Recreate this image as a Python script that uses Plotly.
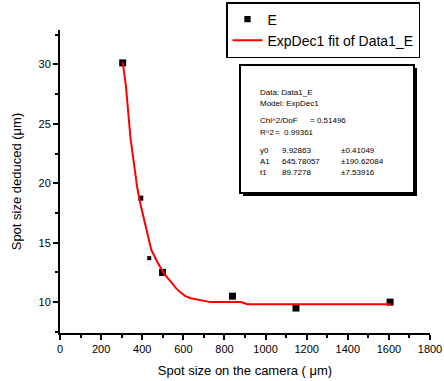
import plotly.graph_objects as go

# Measured data points (E)
data_x = [305, 393, 434, 499, 839, 1148, 1606]
data_y = [30.13, 18.75, 13.7, 12.5, 10.5, 9.5, 10.0]

# ExpDec1 fit curve
fit_x = [305, 320, 343, 360, 376, 392, 405, 421, 444, 473, 506, 540, 563, 587,
         610, 636, 660, 684, 733, 800, 879, 912, 1000, 1100, 1220, 1400, 1610]
fit_y = [30.2, 28.3, 23.8, 21.7, 19.6, 18.2, 17.2, 16.1, 14.4, 13.4, 12.4, 11.7,
         11.2, 10.8, 10.5, 10.33, 10.25, 10.2, 10.0, 10.0, 10.0, 9.83, 9.83, 9.83,
         9.83, 9.83, 9.83]

x_ticks = [0, 200, 400, 600, 800, 1000, 1200, 1400, 1600, 1800]
y_ticks = [10, 15, 20, 25, 30]

info_lines = [
    ("Data: Data1_E", "", ""),
    ("Model: ExpDec1", "", ""),
    ("Chi^2/DoF", "= 0.51496", ""),
    ("R^2", "=  0.99361", ""),
    ("y0", "9.92863", "\u00b10.41049"),
    ("A1", "645.78057", "\u00b1190.62084"),
    ("t1", "89.7278", "\u00b17.53916"),
]

FONT = "Liberation Sans, Arial, sans-serif"
W, H = 444, 381
L, R, T, B = 60, 14, 30, 48
PW, PH = W - L - R, H - T - B


def px(x):
    return (x - L) / PW


def py(y):
    return (H - B - y) / PH


fig = go.Figure()
fig.add_trace(go.Scatter(
    x=data_x, y=data_y, mode="markers", name="E",
    marker=dict(symbol="square", color="#000000", opacity=1,
                size=[7, 5, 4, 7, 7, 7, 7], line=dict(width=0)),
))
fig.add_trace(go.Scatter(
    x=fit_x, y=fit_y, mode="lines", name="ExpDec1 fit of Data1_E",
    line=dict(color="#ff0000", width=2),
))

axis_common = dict(
    showline=True, linecolor="black", linewidth=2, ticks="outside", ticklen=5,
    tickwidth=2, tickcolor="black", showgrid=False, zeroline=False,
    automargin=False,
    tickfont=dict(family=FONT, size=11, color="black"),
)
fig.update_xaxes(range=[0, 1800], tickvals=x_ticks,
                 minor=dict(dtick=100, ticks="outside", ticklen=3, tickwidth=2,
                            tickcolor="black"),
                 title=dict(text="Spot size on the camera ( \u03bcm)",
                            font=dict(family=FONT, size=13, color="black"),
                            standoff=12),
                 **axis_common)
fig.update_yaxes(range=[7.4, 32.9], tickvals=y_ticks,
                 minor=dict(dtick=2.5, ticks="outside", ticklen=3, tickwidth=2,
                            tickcolor="black"),
                 title=dict(text="Spot size deduced (\u03bcm)",
                            font=dict(family=FONT, size=13, color="black"),
                            standoff=14),
                 **axis_common)

shapes = []
# info box shadow and box
shapes.append(dict(type="rect", xref="paper", yref="paper",
                   x0=px(243), x1=px(417), y0=py(196), y1=py(68),
                   fillcolor="black", line=dict(width=0), layer="above"))
shapes.append(dict(type="rect", xref="paper", yref="paper",
                   x0=px(240), x1=px(414), y0=py(193), y1=py(65),
                   fillcolor="white", line=dict(color="black", width=2), layer="above"))

annotations = []
row_y = [93, 104, 121, 132, 150, 161, 172]
for (a, b, c), yy in zip(info_lines, row_y):
    col2_x = 308 if a.startswith("Chi") else (273 if a.startswith("R^") else 280)
    for txt, xx in ((a, 258), (b, col2_x), (c, 339)):
        if txt:
            annotations.append(dict(
                text=txt, xref="paper", yref="paper", x=px(xx), y=py(yy),
                xanchor="left", yanchor="middle", showarrow=False,
                font=dict(family=FONT, size=8, color="black"),
            ))

fig.update_layout(
    width=W, height=H,
    margin=dict(l=L, r=R, t=T, b=B, autoexpand=False),
    paper_bgcolor="white", plot_bgcolor="white",
    font=dict(family=FONT, color="black"),
    showlegend=True,
    legend=dict(x=px(226), y=py(2), xanchor="left", yanchor="top",
                bgcolor="white", bordercolor="black", borderwidth=1.5,
                font=dict(family=FONT, size=14, color="black"),
                tracegroupgap=0, itemwidth=30),
    shapes=shapes, annotations=annotations,
)

fig.write_html("out.html", config={"displayModeBar": False},
               post_script="document.body.style.margin='0px';document.body.style.padding='0px';")
